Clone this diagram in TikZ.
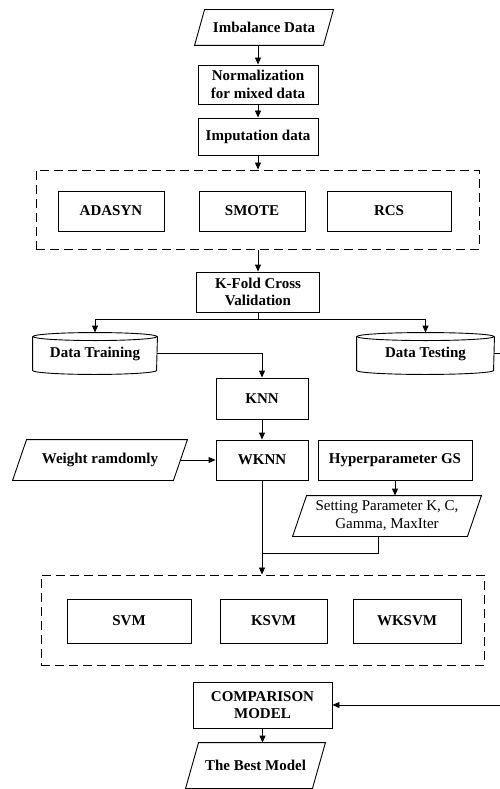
\documentclass[tikz,border=0pt]{standalone}
\usepackage{fontspec}
\setmainfont{Liberation Serif}
\usetikzlibrary{arrows.meta}
\newcommand{\parabox}[2]{%
  \draw ([xshift=#2]#1.north west) -- ([xshift=#2]#1.north east) -- ([xshift=-#2]#1.south east) -- ([xshift=-#2]#1.south west) -- cycle;}
\newcommand{\cylbox}[2]{%
  \draw ([yshift=-4pt]#1.north) ellipse [x radius=#2, y radius=4pt];
  \draw ([yshift=-4pt]#1.north west) -- ([yshift=4pt]#1.south west) arc[start angle=180, end angle=360, x radius=#2, y radius=4pt] -- ([yshift=-4pt]#1.north east);}
\begin{document}
\begin{tikzpicture}[x=1pt,y=-1pt, line width=0.9pt,
  box/.style={draw, inner sep=1pt, align=center, font=\fontsize{15}{17.5}\selectfont\bfseries},
  txt/.style={inner sep=1pt, align=center, font=\fontsize{15}{17.5}\selectfont\bfseries},
  plain/.style={inner sep=1pt, align=center, font=\fontsize{15}{18}\selectfont},
  arr/.style={-{Triangle[length=7pt,width=6pt]}},
  dbox/.style={draw, dash pattern=on 9pt off 5pt, line width=1pt, inner sep=0pt}]
\useasboundingbox (0,0) rectangle (499,789);

% top chain
\node[txt, minimum width=128pt, minimum height=35pt] (imb) at (264,27.5) {Imbalance Data};
\parabox{imb}{5pt}
\node[box, minimum width=120pt, minimum height=39pt] (norm) at (258,84.5) {Normalization\\for mixed data};
\node[box, minimum width=120pt, minimum height=37pt] (imput) at (258,136.5) {Imputation data};

% group 1
\node[dbox, minimum width=443pt, minimum height=79pt] (grp1) at (257.5,209.5) {};
\node[box, minimum width=106pt, minimum height=40pt] (adasyn) at (111,211) {ADASYN};
\node[box, minimum width=106pt, minimum height=40pt] (smote) at (252,211) {SMOTE};
\node[box, minimum width=124pt, minimum height=40pt] (rcs) at (389,211) {RCS};

\node[box, minimum width=123pt, minimum height=40pt] (kfold) at (258,292) {K-Fold Cross\\Validation};

% cylinders
\node[txt, minimum width=124pt, minimum height=41pt] (train) at (95,353.5) {Data Training};
\cylbox{train}{62pt}
\node[txt, minimum width=137pt, minimum height=41pt] (test) at (425.5,353.5) {Data Testing};
\cylbox{test}{68.5pt}

\node[box, minimum width=92pt, minimum height=41pt] (knn) at (262,398.5) {KNN};
\node[box, minimum width=92pt, minimum height=40pt] (wknn) at (262,460) {WKNN};
\node[txt, minimum width=160pt, minimum height=40pt] (weight) at (100,460) {Weight ramdomly};
\parabox{weight}{7pt}
\node[box, minimum width=154pt, minimum height=40pt] (hyper) at (395,460) {Hyperparameter GS};
\node[plain, minimum width=174pt, minimum height=40pt] (set) at (387,516) {Setting Parameter K, C,\\Gamma, MaxIter};
\parabox{set}{7pt}

% group 2
\node[dbox, minimum width=443pt, minimum height=90pt] (grp2) at (262.5,620) {};
\node[box, minimum width=124pt, minimum height=44pt] (svm) at (129,621) {SVM};
\node[box, minimum width=107pt, minimum height=44pt] (ksvm) at (273.5,621) {KSVM};
\node[box, minimum width=108pt, minimum height=44pt] (wksvm) at (407,621) {WKSVM};

\node[box, minimum width=139pt, minimum height=46pt] (comp) at (262.5,705) {COMPARISON\\MODEL};
\node[txt, minimum width=126pt, minimum height=45pt] (best) at (255.5,765.5) {The Best Model};
\parabox{best}{6.5pt}

% connectors
\draw[arr] (norm.north |- imb.south) -- (norm.north);
\draw[arr] (norm) -- (imput);
\draw[arr] (imput.south) -- (imput.south |- grp1.north);
\draw[arr] (grp1.south -| kfold.north) -- (kfold.north);
\draw[arr] (kfold.south) -- ++(0,7) -| (train.north);
\draw[arr] (kfold.south) -- ++(0,7) -| (test.north);
\draw[arr] (train.east) -| (knn.north);
\draw[arr] (test.east) -- ++(25,0) |- (comp.east);
\draw[arr] (knn) -- (wknn);
\draw[arr] (weight.east) -- (wknn.west);
\draw[arr] (hyper.south) -- (hyper.south |- set.north);
\coordinate (join) at (wknn.south |- 0,553);
\draw[arr] (wknn.south) -- (wknn.south |- grp2.north);
\draw ([xshift=-9pt]set.south) |- (join);
\draw[arr] (comp.south) -- (comp.south |- best.north);
\end{tikzpicture}
\end{document}
